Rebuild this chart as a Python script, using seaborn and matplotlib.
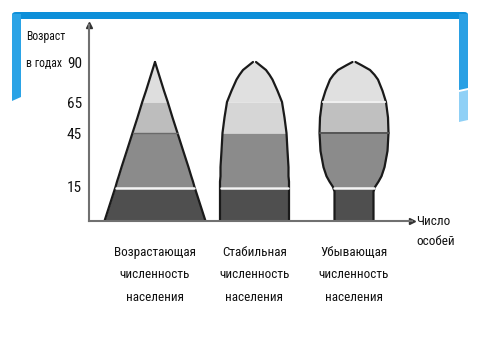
import numpy as np
import matplotlib
matplotlib.use("Agg")
import matplotlib.pyplot as plt
from matplotlib.patches import FancyBboxPatch, Polygon
import seaborn as sns

# ---- data ----
ages = [0, 13, 15, 18, 21, 26, 35, 45, 55, 65, 72, 79, 82, 85, 88, 90]
width_growing = [101, 82, 79, 76, 72.5, 67, 56.5, 45, 35, 25.5, 18, 11, 8, 5, 2, 0]
width_stable = [69, 69, 69, 69, 68, 68, 66, 64, 60, 55, 46, 36, 30, 23, 11, 3]
width_declining = [39, 39, 42, 49, 55, 61, 67, 69, 68, 64, 57, 48, 41, 32, 15, 3]
categories = ["Возрастающая\nчисленность\nнаселения",
              "Стабильная\nчисленность\nнаселения",
              "Убывающая\nчисленность\nнаселения"]
age_ticks = [15, 45, 65, 90]
band_edges = [0, 15, 45, 65, 90]
y_title = "Возраст\nв годах"
x_title = "Число\nособей"

# ---- style ----
sns.set_theme(style="white")
plt.rcParams["font.family"] = ["Liberation Sans Narrow", "Roboto Condensed",
                               "DejaVu Sans Condensed", "Open Sans Condensed",
                               "DejaVu Sans"]
plt.rcParams["font.stretch"] = "condensed"

fig = plt.figure(figsize=(4.8, 3.6), dpi=100)
fig.patch.set_facecolor("white")

W, H = 480.0, 360.0
def fx(px): return px / W
def fy(py): return 1 - py / H

# slide decoration (blue frame)
fig.add_artist(FancyBboxPatch((fx(12), fy(19)), fx(456), 7 / H,
                              boxstyle="round,pad=0,rounding_size=0.008",
                              transform=fig.transFigure, color="#0d8fd9", lw=0))
fig.add_artist(Polygon([(fx(12), fy(14)), (fx(21), fy(14)), (fx(21), fy(97)), (fx(12), fy(101))],
                       closed=True, transform=fig.transFigure, color="#2aa3e6", lw=0))
fig.add_artist(Polygon([(fx(459), fy(14)), (fx(468), fy(14)), (fx(468), fy(88)), (fx(459), fy(90))],
                       closed=True, transform=fig.transFigure, color="#2aa0e4", lw=0))
fig.add_artist(Polygon([(fx(459), fy(92)), (fx(468), fy(90)), (fx(468), fy(120)), (fx(459), fy(122))],
                       closed=True, transform=fig.transFigure, color="#8fd0f6", lw=0))

ax = fig.add_axes([fx(89), 1 - 221 / H, 323 / W, 196 / H])
ax.set_facecolor("none")

# axis scale: piecewise-linear age axis as drawn
scale_ages = [0, 15, 45, 65, 90, 140]
scale_pos = [0, 34, 88, 119, 159, 239]
fwd = lambda a: np.interp(a, scale_ages, scale_pos)
inv = lambda h: np.interp(h, scale_pos, scale_ages)
ax.set_yscale("function", functions=(fwd, inv))
ax.set_ylim(0, float(inv(196)))
ax.set_xlim(0, 323)

centers = 66 + 99.5 * np.arange(len(categories))
widths = [width_growing, width_stable, width_declining]
band_colors = [["#4f4f4f", "#8b8b8b", "#bdbdbd", "#dedede"],
               ["#4f4f4f", "#8b8b8b", "#d6d6d6", "#e0e0e0"],
               ["#4f4f4f", "#8b8b8b", "#c0c0c0", "#e0e0e0"]]

a = np.array(ages, dtype=float)
for c, w, cols in zip(centers, widths, band_colors):
    w = np.array(w, dtype=float)
    for (lo, hi), col in zip(zip(band_edges[:-1], band_edges[1:]), cols):
        m = (a >= lo) & (a <= hi)
        ax.fill_betweenx(a[m], c - w[m] / 2, c + w[m] / 2, color=col, lw=0)
    # outline
    sns.lineplot(x=c - w / 2, y=a, sort=False, ax=ax, color="#1a1a1a", lw=1.6, estimator=None)
    sns.lineplot(x=c + w / 2, y=a, sort=False, ax=ax, color="#1a1a1a", lw=1.6, estimator=None)
    # separator at 15 (white)
    w15 = np.interp(14.6, a, w)
    ax.plot([c - w15 / 2 + 1, c + w15 / 2 - 1], [14.6, 14.6], color="#f4f4f4", lw=1.8)

# extra separators of the declining pyramid
wd = np.array(width_declining, dtype=float)
c3 = centers[2]
w45 = np.interp(45, a, wd)
ax.plot([c3 - w45 / 2, c3 + w45 / 2], [45, 45], color="#555555", lw=1.4)
w65 = np.interp(65, a, wd)
ax.plot([c3 - w65 / 2 + 1, c3 + w65 / 2 - 1], [65, 65], color="#efefef", lw=1.5)
# darker edge of the 45 boundary on the growing pyramid
wg = np.array(width_growing, dtype=float)
w45g = np.interp(45, a, wg)
ax.plot([centers[0] - w45g / 2, centers[0] + w45g / 2], [45, 45], color="#6a6a6a", lw=1.0)

# axes
sns.despine(ax=ax)
for s in ["left", "bottom"]:
    ax.spines[s].set_color("#707070")
    ax.spines[s].set_linewidth(1.5)
ax.plot(1, 0, ">", transform=ax.transAxes, clip_on=False, color="#333333", ms=5)
ax.plot(0, 1, "^", transform=ax.transAxes, clip_on=False, color="#333333", ms=4)

txt = "#111111"
ax.set_yticks(age_ticks)
ax.set_yticklabels([str(t) for t in age_ticks], fontsize=11, color=txt)
ax.tick_params(axis="y", direction="in", length=3, width=1, color="#777777", pad=5)
ax.set_xticks(centers)
ax.set_xticklabels(categories, fontsize=9.5, color=txt, linespacing=1.95)
ax.tick_params(axis="x", length=0, pad=18)
ax.set_xlabel("")
ax.set_ylabel("")

ax.text(1.012, 0.03, x_title, transform=ax.transAxes, ha="left", va="top",
        fontsize=9.5, color=txt, linespacing=1.7)
fig.text(fx(26), fy(30), y_title, ha="left", va="top", fontsize=8.5,
         color=txt, linespacing=2.4)

fig.savefig("out.png", dpi=100, facecolor="white")
